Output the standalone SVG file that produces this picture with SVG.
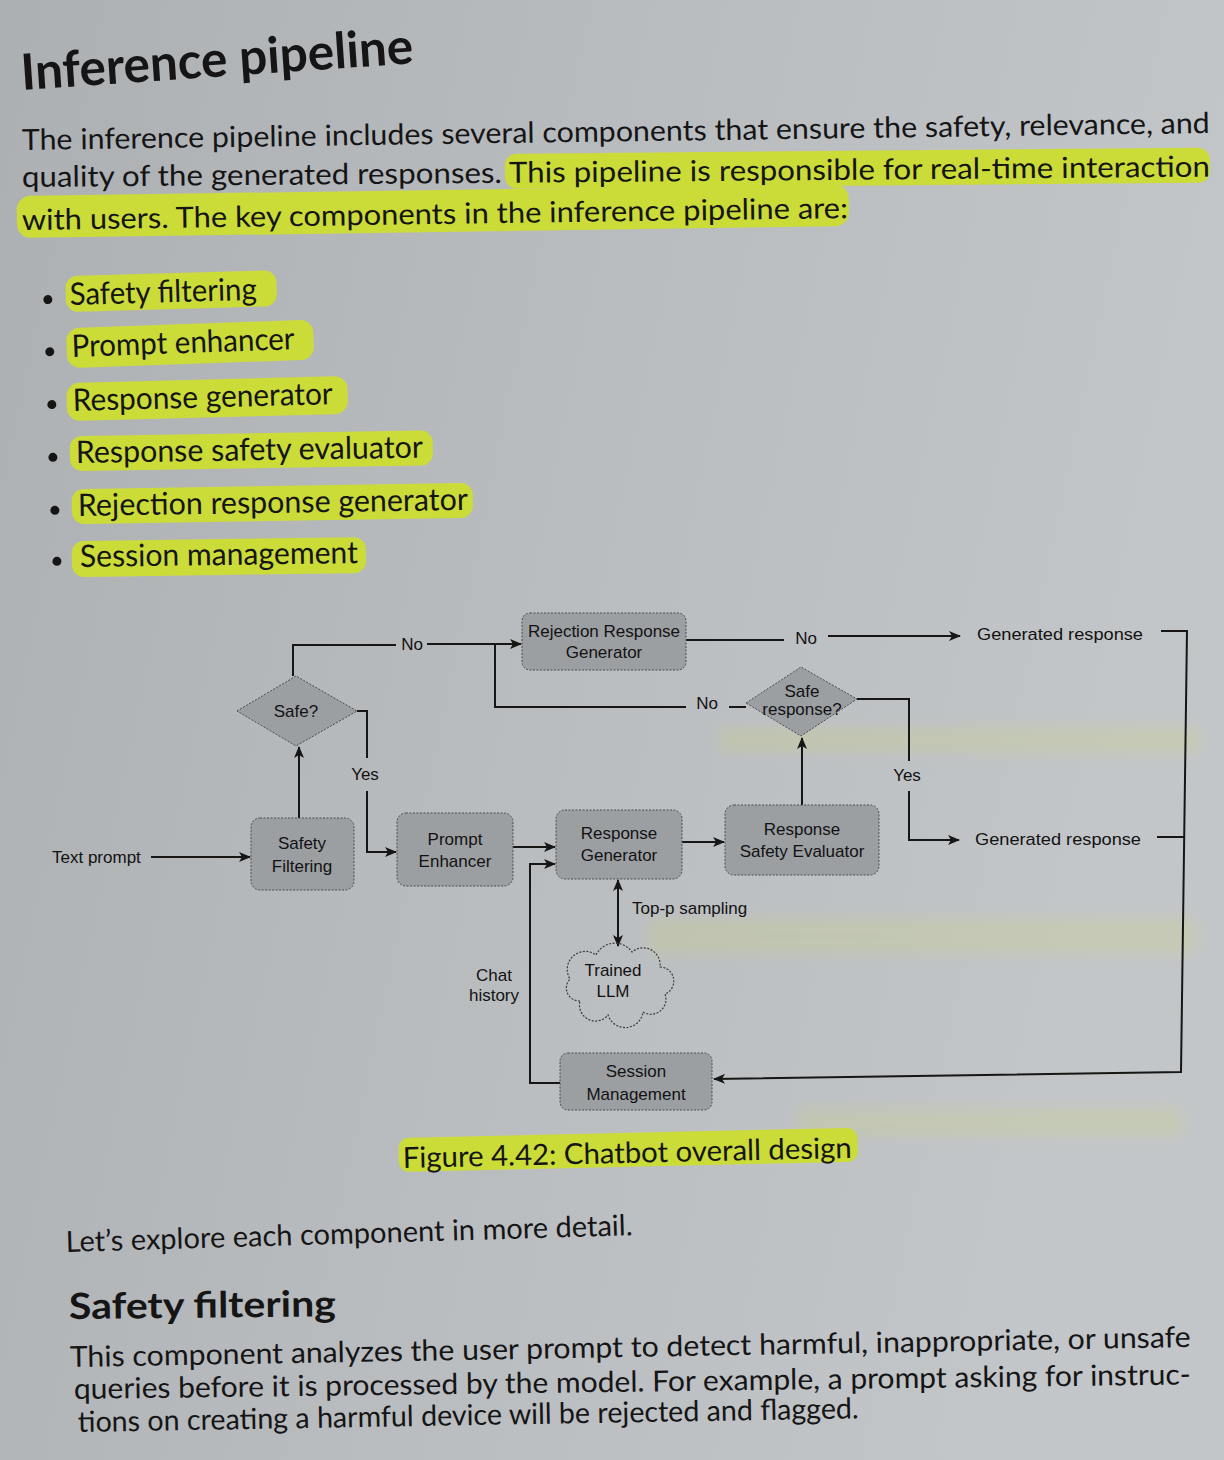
<svg xmlns="http://www.w3.org/2000/svg" width="1224" height="1460" viewBox="0 0 1224 1460">
  <defs>
    <linearGradient id="paper" x1="0" y1="0" x2="1" y2="0.25">
      <stop offset="0" stop-color="#adb0b3"/>
      <stop offset="0.5" stop-color="#b9bcbf"/>
      <stop offset="1" stop-color="#c3c6c8"/>
    </linearGradient>
    <filter id="soft" x="-10%" y="-50%" width="120%" height="200%">
      <feGaussianBlur stdDeviation="6"/>
    </filter>
    <marker id="arrow" viewBox="0 0 12 10" refX="11" refY="5" markerWidth="12" markerHeight="10" markerUnits="userSpaceOnUse" orient="auto-start-reverse">
      <path d="M0,0 L12,5 L0,10 L3,5 z" fill="#161616"/>
    </marker>
    <style>
      .page { font-family: Lato, "Open Sans", "Liberation Sans", sans-serif; fill: #151516; }
      .title { font-size: 50px; font-weight: 700; }
      .body { font-size: 29px; }
      .bullet { font-size: 31px; }
      .caption { font-size: 29px; }
      .heading { font-size: 36px; font-weight: 700; }
      .hl { fill: #cbdc38; }
      .bleed { fill: #d0dc55; opacity: 0.16; filter: url(#soft); }
      .dg { font-family: "Liberation Sans", Arial, sans-serif; font-size: 17px; fill: #121212; }
      .mid { text-anchor: middle; }
      .box { fill: #9c9fa2; stroke: #4a4c4e; stroke-width: 1; stroke-dasharray: 2 1.5; }
      .cloud { fill: none; stroke: #3a3c3e; stroke-width: 1.2; stroke-dasharray: 2 1.5; }
      .wire { fill: none; stroke: #161616; stroke-width: 2; }
      .dot { fill: #151515; }
    </style>
  </defs>

  <!-- paper -->
  <rect width="1224" height="1460" fill="url(#paper)"/>

  <!-- faint marker strokes showing through from the reverse side -->
  <rect class="bleed" x="718" y="727" width="482" height="26" rx="10"/>
  <rect class="bleed" x="647" y="918" width="550" height="36" rx="12"/>
  <rect class="bleed" x="797" y="1108" width="385" height="28" rx="10"/>

  <!-- heading and intro -->
  <g class="page">
    <text class="title" x="22" y="90" transform="rotate(-3.9 22 90)" textLength="393" lengthAdjust="spacingAndGlyphs">Inference pipeline</text>

    <text class="body" x="22" y="150" transform="rotate(-0.82 22 150)" textLength="1188" lengthAdjust="spacingAndGlyphs">The inference pipeline includes several components that ensure the safety, relevance, and</text>

    <rect class="hl" x="505" y="158" width="705" height="35" rx="12" transform="rotate(-0.5 22 187)"/>
    <text class="body" x="22" y="187" transform="rotate(-0.5 22 187)" textLength="1188" lengthAdjust="spacingAndGlyphs">quality of the generated responses.  This pipeline is responsible for real-time interaction</text>

    <rect class="hl" x="17" y="196" width="832" height="42" rx="14" transform="rotate(-0.83 22 230)"/>
    <text class="body" x="22" y="230" transform="rotate(-0.83 22 230)" textLength="826" lengthAdjust="spacingAndGlyphs">with users. The key components in the inference pipeline are:</text>
  </g>

  <!-- bullet list -->
  <g class="page">
    <g transform="rotate(-1.6 70 305)">
      <rect class="hl" x="66" y="276" width="211" height="36" rx="12"/>
      <circle class="dot" cx="48" cy="299" r="4.5"/>
      <text class="bullet" x="70" y="305" textLength="187" lengthAdjust="spacingAndGlyphs">Safety filtering</text>
    </g>
    <g transform="rotate(-2 72 357)">
      <rect class="hl" x="67" y="328" width="247" height="40" rx="13"/>
      <circle class="dot" cx="50" cy="351" r="4.5"/>
      <text class="bullet" x="72" y="357" textLength="223" lengthAdjust="spacingAndGlyphs">Prompt enhancer</text>
    </g>
    <g transform="rotate(-1.5 73 411)">
      <rect class="hl" x="67" y="383" width="281" height="38" rx="13"/>
      <circle class="dot" cx="52" cy="404" r="4.5"/>
      <text class="bullet" x="73" y="411" textLength="260" lengthAdjust="spacingAndGlyphs">Response generator</text>
    </g>
    <g transform="rotate(-0.9 76 463)">
      <rect class="hl" x="70" y="436" width="363" height="35" rx="12"/>
      <circle class="dot" cx="53" cy="457" r="4.5"/>
      <text class="bullet" x="76" y="463" textLength="347" lengthAdjust="spacingAndGlyphs">Response safety evaluator</text>
    </g>
    <g transform="rotate(-0.9 78 516)">
      <rect class="hl" x="72" y="489" width="401" height="35" rx="12"/>
      <circle class="dot" cx="55" cy="510" r="4.5"/>
      <text class="bullet" x="78" y="516" textLength="390" lengthAdjust="spacingAndGlyphs">Rejection response generator</text>
    </g>
    <g transform="rotate(-0.8 80 567)">
      <rect class="hl" x="72" y="541" width="294" height="36" rx="12"/>
      <circle class="dot" cx="57" cy="561" r="4.5"/>
      <text class="bullet" x="80" y="567" textLength="278" lengthAdjust="spacingAndGlyphs">Session management</text>
    </g>
  </g>

  <!-- chatbot flow: connectors -->
  <g id="connectors">
    <path class="wire" d="M151 857 H250" marker-end="url(#arrow)"/>
    <path class="wire" d="M299 818 V747" marker-end="url(#arrow)"/>
    <path class="wire" d="M293 676 V645 H396"/>
    <path class="wire" d="M427 644 H521" marker-end="url(#arrow)"/>
    <path class="wire" d="M495 644 V707 H686"/>
    <path class="wire" d="M729 707 H746"/>
    <path class="wire" d="M357 711 H367 V758"/>
    <path class="wire" d="M367 791 V852 H396" marker-end="url(#arrow)"/>
    <path class="wire" d="M686 640 H784"/>
    <path class="wire" d="M828 636 H960" marker-end="url(#arrow)"/>
    <path class="wire" d="M1161 631 H1187 L1181 1072 L714 1079" marker-end="url(#arrow)"/>
    <path class="wire" d="M1157 837 H1184"/>
    <path class="wire" d="M857 699 H909 V761"/>
    <path class="wire" d="M909 791 V840 H959" marker-end="url(#arrow)"/>
    <path class="wire" d="M802 805 V738" marker-end="url(#arrow)"/>
    <path class="wire" d="M682 842 H724" marker-end="url(#arrow)"/>
    <path class="wire" d="M513 847 H555" marker-end="url(#arrow)"/>
    <path class="wire" d="M560 1083 H530 V864 H555" marker-end="url(#arrow)"/>
    <path class="wire" d="M618 880 V946" marker-start="url(#arrow)" marker-end="url(#arrow)"/>

    <text class="dg mid" x="412" y="650">No</text>
    <text class="dg mid" x="707" y="709">No</text>
    <text class="dg mid" x="806" y="644">No</text>
    <text class="dg mid" x="365" y="780">Yes</text>
    <text class="dg mid" x="907" y="781">Yes</text>
    <text class="dg" x="632" y="914">Top-p sampling</text>
    <text class="dg mid" x="494" y="981">Chat</text>
    <text class="dg mid" x="494" y="1001">history</text>
  </g>

  <!-- chatbot flow: nodes -->
  <g id="text-prompt">
    <text class="dg" x="52" y="863">Text prompt</text>
  </g>

  <g id="safety-filtering">
    <rect class="box" x="251" y="818" width="103" height="72" rx="9"/>
    <text class="dg mid" x="302" y="849" font-size="18">Safety</text>
    <text class="dg mid" x="302" y="872" font-size="18">Filtering</text>
  </g>

  <g id="safe-check">
    <polygon class="box" points="237,711 296,676 357,711 296,746"/>
    <text class="dg mid" x="296" y="717">Safe?</text>
  </g>

  <g id="prompt-enhancer">
    <rect class="box" x="397" y="813" width="116" height="73" rx="9"/>
    <text class="dg mid" x="455" y="845" font-size="18">Prompt</text>
    <text class="dg mid" x="455" y="867" font-size="18">Enhancer</text>
  </g>

  <g id="rejection-generator">
    <rect class="box" x="522" y="613" width="164" height="57" rx="8"/>
    <text class="dg mid" x="604" y="637">Rejection Response</text>
    <text class="dg mid" x="604" y="658">Generator</text>
  </g>

  <g id="response-generator">
    <rect class="box" x="556" y="810" width="126" height="69" rx="9"/>
    <text class="dg mid" x="619" y="839" font-size="17.5">Response</text>
    <text class="dg mid" x="619" y="861" font-size="17.5">Generator</text>
  </g>

  <g id="safety-evaluator">
    <rect class="box" x="725" y="805" width="154" height="70" rx="9"/>
    <text class="dg mid" x="802" y="835" font-size="17.5">Response</text>
    <text class="dg mid" x="802" y="857" font-size="17.5">Safety Evaluator</text>
  </g>

  <g id="safe-response-check">
    <polygon class="box" points="746,703 801,667 857,699 801,736"/>
    <text class="dg mid" x="802" y="697" font-size="15">Safe</text>
    <text class="dg mid" x="802" y="715" font-size="15">response?</text>
  </g>

  <g id="generated-response-top">
    <text class="dg" x="977" y="640" textLength="166" lengthAdjust="spacingAndGlyphs">Generated response</text>
  </g>

  <g id="generated-response-bottom">
    <text class="dg" x="975" y="845" textLength="166" lengthAdjust="spacingAndGlyphs">Generated response</text>
  </g>

  <g id="trained-llm">
    <path class="cloud" d="M580 1001 a13 13 0 0 1 -10 -22 a18 18 0 0 1 26 -24 a21 21 0 0 1 36 -3 a17 17 0 0 1 28 15 a14 14 0 0 1 5 27 a15 15 0 0 1 -22 18 a18 18 0 0 1 -35 3 a16 16 0 0 1 -28 -14 z"/>
    <text class="dg mid" x="613" y="976" font-size="15.5">Trained</text>
    <text class="dg mid" x="613" y="997" font-size="15.5">LLM</text>
  </g>

  <g id="session-management">
    <rect class="box" x="560" y="1053" width="152" height="57" rx="8"/>
    <text class="dg mid" x="636" y="1077">Session</text>
    <text class="dg mid" x="636" y="1100">Management</text>
  </g>

  <!-- caption and following section -->
  <g class="page">
    <rect class="hl" x="399" y="1138" width="459" height="34" rx="10" transform="rotate(-1.3 402 1168)"/>
    <text class="caption" x="403" y="1168" transform="rotate(-1.3 403 1168)" textLength="449" lengthAdjust="spacingAndGlyphs">Figure 4.42: Chatbot overall design</text>

    <text class="body" x="66" y="1252" transform="rotate(-1.7 66 1252)" textLength="567" lengthAdjust="spacingAndGlyphs">Let’s explore each component in more detail.</text>

    <text class="heading" x="69" y="1319" transform="rotate(-0.6 69 1319)" textLength="267" lengthAdjust="spacingAndGlyphs">Safety filtering</text>

    <text class="body" x="70" y="1367" transform="rotate(-1.02 70 1367)" textLength="1121" lengthAdjust="spacingAndGlyphs">This component analyzes the user prompt to detect harmful, inappropriate, or unsafe</text>
    <text class="body" x="74" y="1399" transform="rotate(-0.75 74 1399)" textLength="1117" lengthAdjust="spacingAndGlyphs">queries before it is processed by the model.  For example, a prompt asking for instruc-</text>
    <text class="body" x="78" y="1432" transform="rotate(-1.0 78 1432)" textLength="781" lengthAdjust="spacingAndGlyphs">tions on creating a harmful device will be rejected and flagged.</text>
  </g>
</svg>
